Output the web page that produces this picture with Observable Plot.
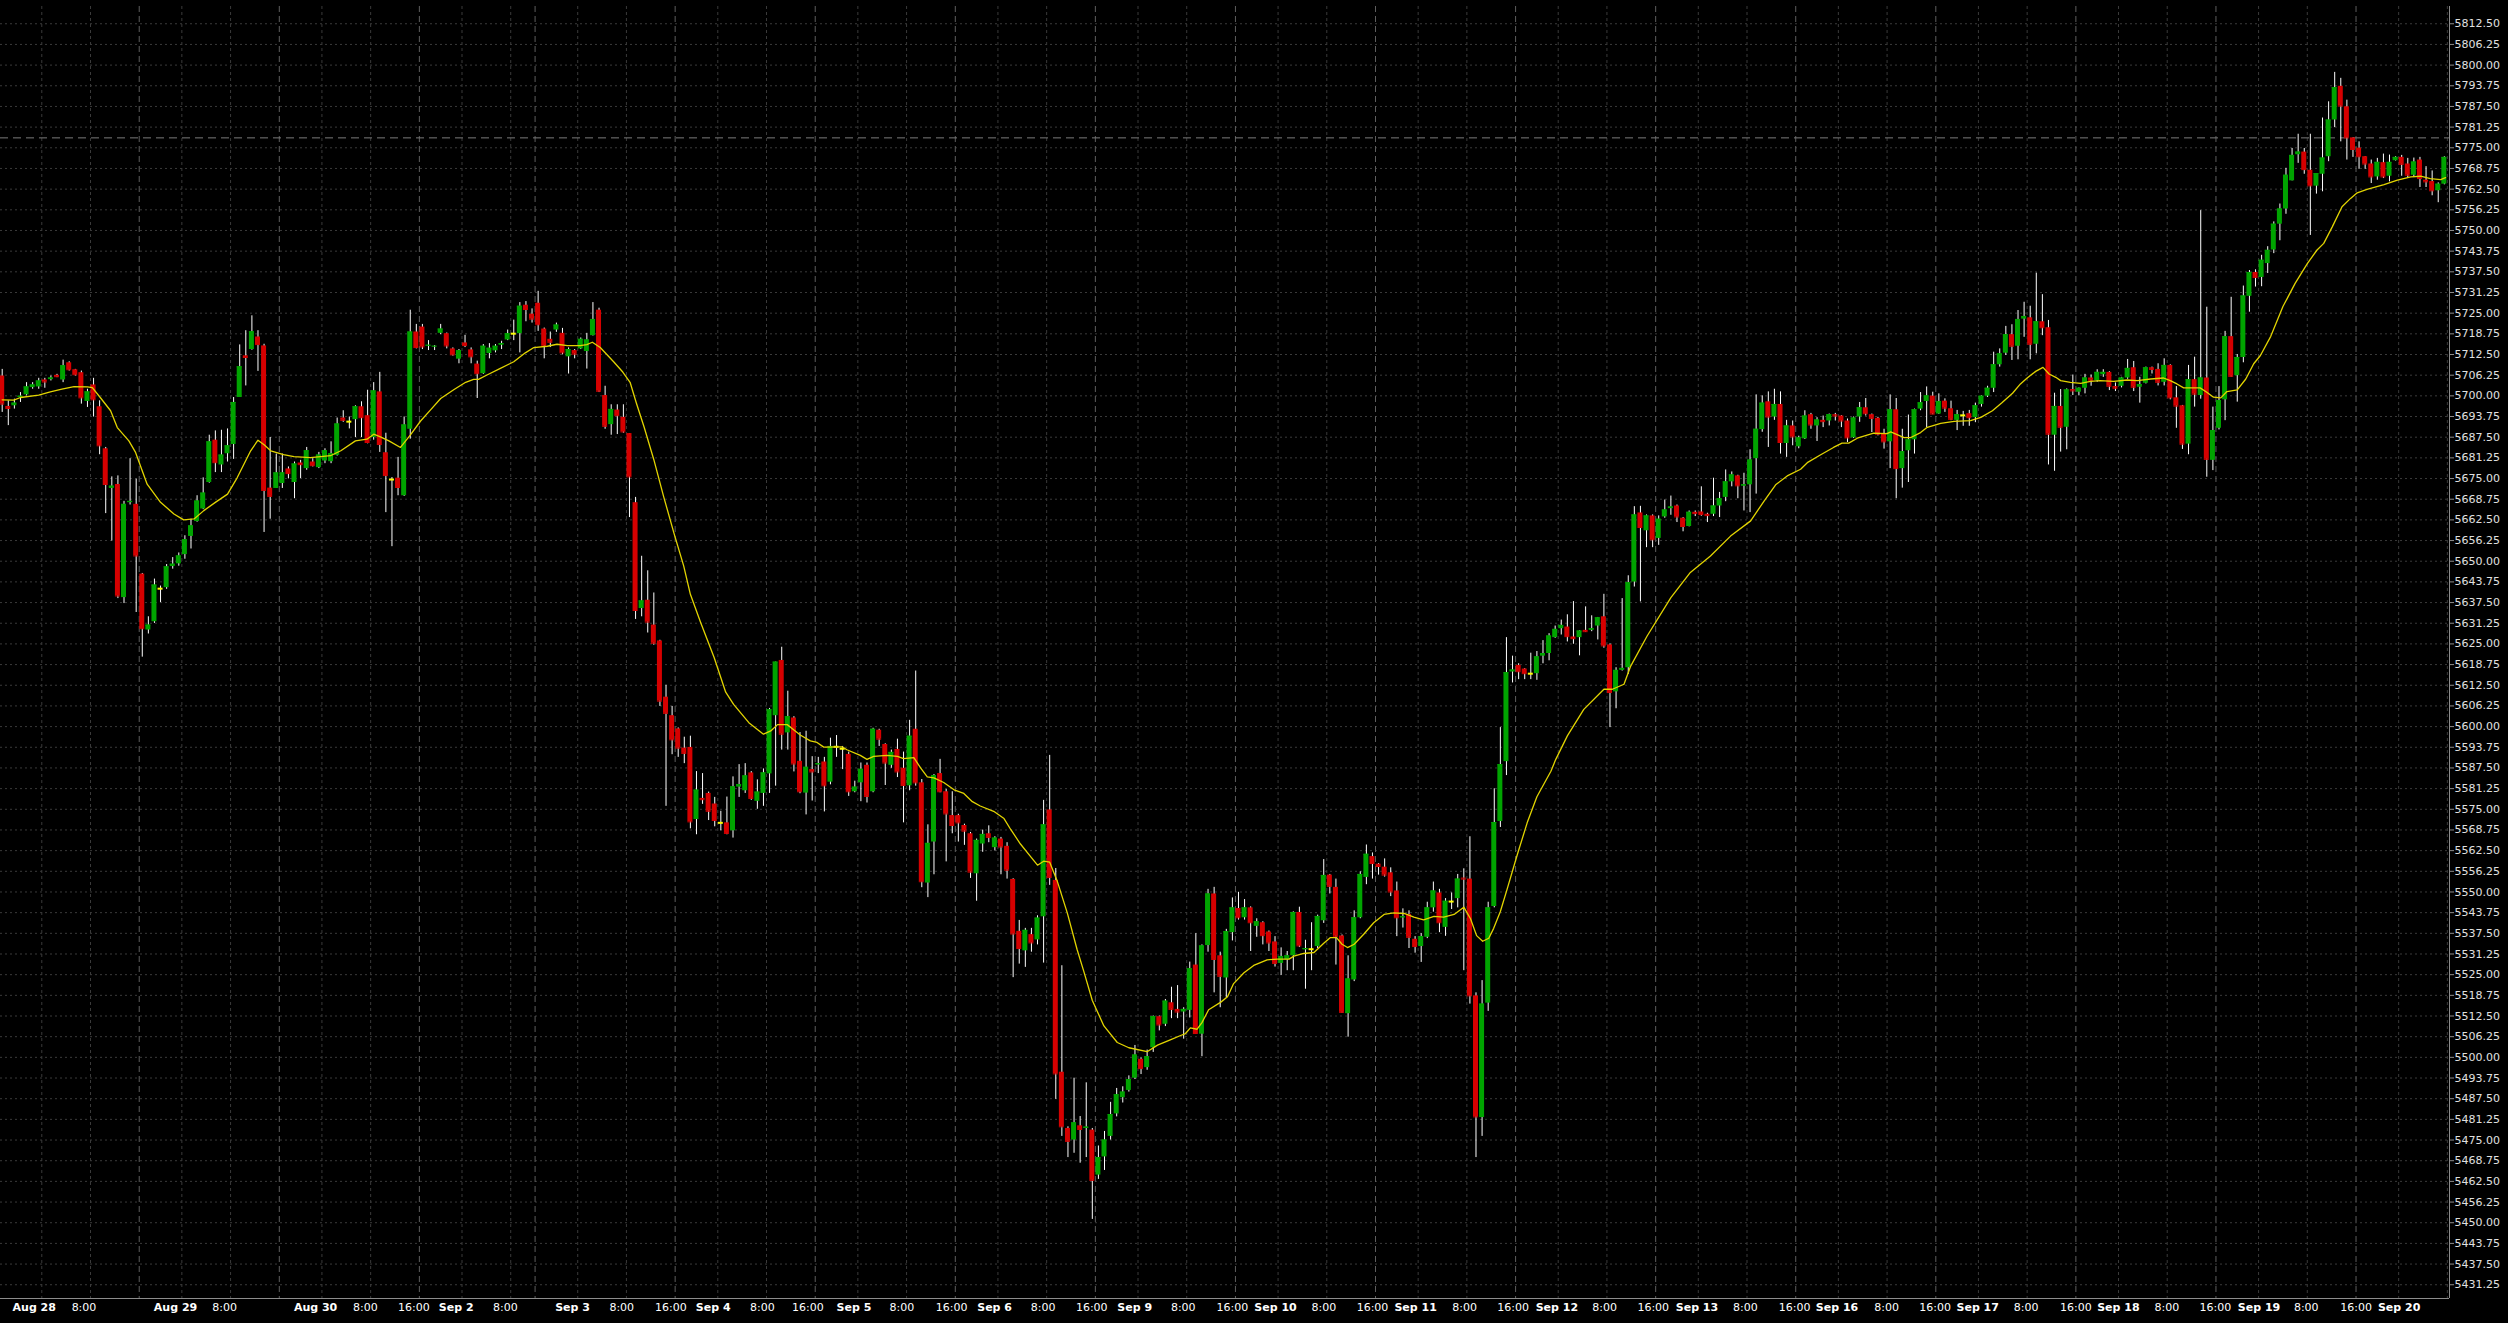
<!DOCTYPE html>
<html><head><meta charset="utf-8">
<script src="https://cdn.jsdelivr.net/npm/d3@7"></script>
<script src="https://cdn.jsdelivr.net/npm/@observablehq/plot@0.6"></script>
<style>html,body{margin:0;padding:0;background:#000;overflow:hidden}</style>
</head><body>
<script>
// ---------- DATA ----------
const OPEN = [
5706.0,5696.8,5697.0,5699.5,5700.3,5702.5,5702.7,5704.8,5704.9,5706.2,
5704.8,5710.0,5707.9,5707.0,5698.3,5703.3,5696.7,5684.0,5672.0,5673.2,
5639.0,5667.7,5667.2,5646.1,5629.2,5631.7,5641.7,5642.0,5648.4,5649.2,
5652.0,5657.5,5662.0,5665.8,5673.8,5686.6,5679.1,5682.5,5685.3,5699.5,
5712.1,5714.0,5717.8,5715.1,5672.1,5672.0,5673.5,5677.9,5673.8,5679.7,
5678.0,5680.0,5678.3,5680.3,5680.1,5682.0,5693.3,5692.2,5692.8,5696.7,
5694.0,5687.4,5701.2,5682.8,5674.7,5675.1,5669.8,5689.9,5719.3,5720.8,
5715.1,5714.9,5718.9,5718.8,5714.2,5711.1,5716.0,5713.9,5709.6,5706.7,
5712.8,5713.6,5715.3,5716.9,5718.8,5718.8,5727.4,5724.7,5728.0,5720.2,
5717.1,5719.9,5718.9,5711.8,5713.7,5714.2,5713.4,5718.2,5725.9,5700.1,
5691.3,5695.7,5693.5,5688.6,5667.7,5635.7,5638.2,5630.7,5625.9,5608.9,
5603.3,5599.3,5593.5,5593.7,5571.9,5578.3,5579.8,5576.6,5570.9,5570.9,
5568.5,5581.7,5580.6,5586.0,5577.4,5579.8,5585.7,5603.3,5620.0,5598.1,
5602.6,5589.5,5579.9,5587.0,5588.4,5589.3,5583.2,5593.9,5593.3,5591.6,
5580.3,5583.0,5588.3,5580.3,5598.9,5594.6,5588.3,5593.1,5587.4,5582.1,
5599.2,5583.0,5552.7,5565.1,5585.8,5580.3,5573.1,5573.1,5570.1,5567.6,
5555.5,5564.5,5567.6,5563.4,5566.0,5563.8,5553.8,5538.1,5532.2,5537.1,
5535.5,5542.5,5574.8,5553.5,5495.5,5478.5,5475.0,5479.3,5478.5,5478.0,
5464.4,5469.9,5476.1,5482.9,5487.8,5490.0,5493.7,5499.4,5496.9,5502.9,
5512.3,5510.0,5516.5,5514.5,5513.7,5514.2,5527.9,5507.0,5533.8,5549.4,
5530.7,5524.0,5537.7,5545.0,5542.2,5545.2,5539.6,5540.7,5537.9,5534.9,
5528.4,5529.5,5530.7,5543.8,5532.5,5532.7,5533.5,5541.3,5555.1,5551.4,
5536.7,5513.2,5523.4,5542.2,5554.4,5560.7,5558.4,5557.5,5555.8,5550.3,
5542.2,5543.2,5535.7,5533.5,5536.3,5545.2,5549.7,5539.3,5547.1,5548.0,
5554.2,5553.9,5518.6,5481.8,5516.4,5545.6,5571.3,5589.4,5616.5,5618.5,
5617.4,5616.0,5616.0,5621.3,5622.1,5626.9,5629.6,5630.1,5627.1,5626.9,
5629.1,5629.1,5630.4,5633.2,5624.7,5610.5,5617.0,5617.8,5643.7,5664.6,
5659.2,5663.7,5656.9,5663.4,5665.9,5666.7,5663.0,5660.5,5664.8,5664.9,
5664.2,5664.2,5666.7,5669.3,5674.0,5675.8,5672.7,5673.1,5681.0,5689.8,
5698.2,5693.6,5697.4,5685.6,5690.9,5684.6,5687.0,5694.3,5690.9,5692.6,
5692.4,5694.3,5693.9,5692.4,5687.3,5693.6,5696.4,5694.3,5693.2,5688.4,
5686.1,5695.8,5678.0,5683.4,5686.7,5696.0,5698.3,5699.9,5694.5,5698.4,
5696.1,5692.6,5694.1,5694.6,5693.4,5697.4,5699.9,5702.3,5709.4,5712.9,
5718.5,5715.0,5723.2,5723.6,5715.6,5722.4,5720.6,5688.1,5696.8,5690.5,
5701.9,5701.1,5702.3,5705.4,5704.6,5706.4,5707.1,5702.8,5702.9,5705.4,
5708.5,5702.6,5703.8,5708.5,5708.0,5704.1,5709.2,5699.4,5697.0,5685.4,
5704.9,5700.1,5705.4,5680.5,5690.2,5698.8,5717.9,5706.1,5711.6,5730.1,
5737.3,5735.8,5740.0,5744.1,5751.9,5756.5,5765.0,5772.9,5773.7,5768.2,
5763.4,5767.0,5772.3,5783.4,5793.6,5787.4,5778.0,5774.9,5772.3,5770.1,
5766.2,5770.5,5766.4,5771.1,5772.1,5770.1,5766.7,5771.3,5765.2,5764.8,
5762.0,5764.0];
const HIGH = [
5708.0,5698.5,5699.0,5701.0,5704.0,5704.0,5705.3,5705.3,5706.0,5706.5,
5710.8,5710.3,5708.0,5707.5,5702.0,5705.3,5698.5,5684.4,5675.5,5675.8,
5668.1,5681.0,5674.8,5646.3,5633.2,5644.6,5642.5,5649.0,5651.1,5652.5,
5657.7,5662.7,5669.8,5675.2,5688.1,5689.4,5689.6,5690.0,5699.5,5715.4,
5719.7,5724.2,5719.7,5715.6,5687.4,5682.4,5682.4,5678.5,5680.0,5680.5,
5684.4,5681.0,5682.9,5684.0,5686.1,5693.3,5695.5,5693.6,5697.0,5698.2,
5701.7,5704.0,5707.1,5688.7,5675.3,5681.4,5693.6,5725.9,5721.6,5721.6,
5716.7,5715.2,5721.6,5719.0,5714.5,5714.0,5718.3,5714.5,5710.5,5715.5,
5715.8,5715.5,5716.5,5719.9,5722.9,5728.2,5728.5,5726.3,5731.6,5720.5,
5719.3,5722.0,5720.4,5714.5,5714.0,5717.5,5718.9,5728.2,5726.5,5702.9,
5697.3,5697.3,5697.3,5688.6,5669.3,5651.5,5647.1,5640.4,5626.1,5612.5,
5606.1,5599.6,5596.8,5597.1,5586.4,5585.8,5580.2,5578.6,5574.4,5578.7,
5584.8,5588.5,5588.8,5586.4,5583.9,5587.2,5605.5,5619.5,5624.0,5610.7,
5603.0,5598.2,5598.6,5590.9,5590.7,5590.7,5596.5,5597.3,5594.0,5592.3,
5583.5,5589.0,5589.0,5599.5,5599.2,5594.8,5592.9,5596.2,5592.3,5601.9,
5616.8,5584.0,5570.3,5585.5,5590.1,5581.0,5580.3,5573.5,5570.5,5568.0,
5566.0,5568.7,5570.0,5566.7,5566.5,5564.9,5554.0,5541.4,5539.0,5539.0,
5542.8,5577.7,5591.3,5557.1,5527.7,5479.0,5493.7,5482.1,5492.3,5478.5,
5473.2,5477.6,5486.4,5490.6,5491.1,5494.4,5503.6,5499.8,5502.2,5512.5,
5512.5,5517.5,5521.2,5521.7,5515.0,5528.8,5537.4,5534.0,5550.8,5551.4,
5531.8,5538.7,5548.2,5549.9,5547.7,5545.5,5541.9,5541.0,5538.2,5536.5,
5533.1,5532.0,5544.0,5545.4,5535.4,5540.7,5543.0,5559.8,5555.3,5553.9,
5537.0,5530.7,5544.3,5556.1,5564.2,5561.8,5558.6,5560.0,5557.3,5553.0,
5544.9,5544.3,5536.5,5537.4,5546.9,5553.0,5550.8,5548.0,5549.7,5555.3,
5557.0,5566.7,5519.5,5523.2,5546.9,5581.2,5599.7,5626.9,5621.3,5619.0,
5617.5,5622.2,5622.7,5626.0,5628.1,5630.4,5632.2,5633.8,5637.8,5629.0,
5636.2,5633.5,5633.0,5640.0,5625.0,5617.8,5638.7,5645.6,5666.5,5666.6,
5664.0,5664.0,5663.7,5668.5,5669.7,5667.0,5663.2,5665.2,5665.2,5672.5,
5664.5,5675.1,5670.8,5677.6,5677.0,5676.0,5676.6,5683.7,5700.3,5700.0,
5701.2,5702.0,5701.2,5692.6,5692.4,5687.8,5695.5,5694.7,5693.4,5693.9,
5694.5,5694.7,5694.0,5693.0,5693.6,5698.0,5699.2,5694.5,5693.5,5689.9,
5700.3,5699.2,5689.9,5694.2,5696.0,5701.0,5702.7,5701.1,5700.6,5699.1,
5698.4,5695.6,5695.3,5695.6,5697.8,5700.0,5702.9,5713.2,5714.2,5721.0,
5721.5,5725.8,5728.3,5727.1,5737.1,5730.6,5722.8,5700.8,5701.9,5702.1,
5706.3,5702.4,5706.5,5706.3,5707.9,5707.9,5707.3,5703.9,5705.6,5711.0,
5710.4,5705.6,5708.7,5708.7,5709.7,5711.2,5709.4,5702.8,5697.1,5709.2,
5711.7,5756.0,5726.8,5696.6,5702.8,5719.5,5729.8,5712.5,5733.2,5737.9,
5738.1,5742.5,5745.1,5752.6,5758.0,5768.8,5774.8,5779.1,5774.8,5779.1,
5767.2,5784.0,5788.9,5797.8,5796.0,5789.4,5778.0,5776.8,5772.3,5771.3,
5771.8,5773.1,5772.8,5772.3,5772.7,5771.8,5771.9,5772.1,5769.3,5768.0,
5764.4,5772.3];
const LOW = [
5695.0,5691.0,5696.0,5698.0,5700.0,5702.0,5702.0,5702.3,5704.5,5705.5,
5704.0,5707.5,5706.0,5697.5,5696.5,5693.6,5682.2,5664.4,5656.1,5638.7,
5637.2,5667.0,5634.5,5621.0,5628.0,5631.2,5637.5,5641.5,5647.6,5648.5,
5650.6,5653.7,5661.8,5665.6,5673.6,5676.8,5676.8,5680.0,5680.8,5699.5,
5703.0,5713.8,5707.4,5658.7,5662.7,5672.0,5672.0,5674.9,5668.9,5675.0,
5677.5,5678.5,5678.0,5679.5,5679.5,5681.8,5692.0,5690.0,5687.4,5687.4,
5685.5,5686.6,5682.9,5664.7,5654.4,5669.8,5669.6,5686.9,5714.2,5714.0,
5713.7,5713.7,5718.5,5714.2,5712.0,5709.7,5714.6,5709.7,5699.2,5706.5,
5711.2,5713.0,5714.0,5716.7,5716.7,5713.0,5722.4,5722.0,5719.5,5711.2,
5714.6,5719.2,5712.4,5706.6,5711.2,5714.0,5708.1,5718.1,5701.0,5689.9,
5688.1,5688.3,5688.7,5663.2,5632.4,5633.2,5628.3,5624.6,5606.1,5575.9,
5591.5,5590.7,5588.8,5569.1,5567.3,5576.5,5571.6,5569.7,5568.5,5567.3,
5566.3,5578.6,5579.8,5577.7,5575.0,5575.9,5579.8,5582.0,5592.9,5592.9,
5586.3,5579.7,5573.3,5577.5,5585.8,5574.2,5582.4,5590.7,5587.0,5578.9,
5580.0,5577.3,5576.9,5580.0,5594.0,5582.2,5587.4,5584.6,5570.9,5580.6,
5582.0,5551.3,5548.3,5555.2,5580.0,5559.1,5567.6,5565.1,5564.1,5554.1,
5547.2,5562.0,5564.9,5562.4,5555.2,5553.9,5524.1,5528.2,5527.2,5531.8,
5534.0,5528.5,5552.0,5487.3,5476.1,5469.7,5471.0,5468.0,5469.7,5451.0,
5463.1,5465.8,5475.0,5482.0,5486.2,5489.5,5493.3,5494.8,5496.1,5501.5,
5508.0,5509.3,5511.7,5511.7,5505.5,5511.9,5507.0,5500.2,5531.8,5519.5,
5515.0,5518.0,5535.2,5541.5,5541.5,5532.0,5536.3,5534.0,5532.0,5527.3,
5524.8,5526.2,5526.2,5533.2,5520.6,5526.2,5532.9,5540.5,5549.4,5527.9,
5513.3,5506.1,5522.9,5541.9,5552.2,5553.9,5555.1,5554.5,5548.6,5536.5,
5539.1,5532.9,5531.5,5528.7,5535.9,5543.9,5537.7,5536.6,5544.7,5545.2,
5526.2,5516.1,5469.7,5476.1,5513.9,5545.2,5569.5,5585.2,5613.2,5614.2,
5614.2,5614.2,5614.0,5619.0,5619.9,5626.7,5627.7,5625.6,5624.9,5621.4,
5628.5,5628.7,5626.2,5623.7,5599.7,5605.4,5616.8,5615.8,5642.2,5637.7,
5654.1,5654.1,5654.8,5663.0,5663.9,5661.7,5658.9,5660.4,5663.5,5663.6,
5661.7,5663.5,5663.2,5668.0,5672.5,5668.9,5665.2,5664.7,5670.3,5689.0,
5684.4,5692.6,5682.4,5681.4,5684.9,5684.0,5686.8,5689.9,5686.2,5690.4,
5690.9,5692.4,5690.4,5685.9,5687.1,5692.0,5693.9,5688.9,5687.9,5683.9,
5678.0,5668.9,5672.1,5673.8,5682.4,5695.5,5690.4,5694.3,5694.4,5695.0,
5692.5,5689.5,5690.8,5690.8,5691.9,5696.6,5699.5,5701.0,5708.7,5712.2,
5710.7,5710.9,5717.7,5710.9,5712.7,5718.2,5679.1,5677.2,5683.0,5683.7,
5700.1,5700.0,5700.6,5702.9,5704.1,5705.6,5701.6,5701.3,5702.4,5705.0,
5701.3,5697.8,5703.6,5706.6,5703.0,5703.0,5698.8,5690.2,5683.8,5682.2,
5696.6,5699.0,5675.4,5677.4,5689.7,5692.5,5705.6,5698.1,5710.0,5725.3,
5732.9,5733.0,5737.0,5743.0,5746.9,5754.9,5765.0,5770.3,5767.0,5748.5,
5761.0,5761.7,5770.8,5781.1,5776.8,5771.3,5772.1,5768.5,5768.5,5764.2,
5765.2,5765.7,5764.7,5771.0,5766.4,5765.9,5766.0,5763.0,5763.0,5760.5,
5758.4,5763.8];
const CLOSE = [
5697.5,5696.2,5697.8,5699.9,5702.7,5703.3,5704.5,5704.2,5705.4,5705.8,
5709.1,5707.9,5706.4,5699.4,5701.2,5698.8,5684.9,5673.2,5672.7,5639.5,
5667.2,5668.1,5651.6,5629.6,5630.7,5642.8,5641.7,5648.3,5649.1,5651.6,
5656.5,5660.7,5668.2,5670.6,5686.1,5679.8,5682.1,5684.9,5698.0,5708.8,
5711.6,5719.4,5715.5,5671.4,5669.6,5676.7,5676.7,5676.5,5679.4,5679.2,
5683.4,5678.9,5682.1,5683.4,5682.5,5691.5,5692.6,5692.2,5696.7,5693.4,
5685.9,5701.5,5685.3,5675.9,5674.7,5672.3,5691.2,5719.3,5714.6,5714.8,
5715.3,5715.0,5720.2,5715.1,5712.4,5713.7,5715.2,5711.8,5706.7,5715.0,
5714.4,5715.0,5715.8,5718.8,5718.8,5727.1,5726.1,5723.2,5721.5,5715.0,
5716.2,5721.4,5713.0,5714.0,5712.6,5717.1,5716.9,5723.1,5701.4,5690.8,
5695.9,5694.0,5689.1,5675.5,5635.1,5638.0,5631.6,5625.2,5607.7,5604.0,
5596.0,5593.5,5591.9,5571.2,5580.8,5577.9,5574.4,5571.6,5570.9,5567.7,
5581.8,5582.5,5585.1,5578.3,5580.2,5586.0,5605.1,5619.5,5597.7,5603.0,
5588.7,5580.3,5587.7,5586.3,5588.8,5582.1,5594.0,5593.9,5593.3,5580.3,
5581.7,5587.1,5578.9,5599.2,5596.2,5589.0,5592.2,5586.3,5582.2,5597.1,
5583.0,5553.1,5564.7,5585.2,5580.3,5573.6,5570.1,5570.9,5568.4,5556.0,
5565.6,5567.4,5566.5,5566.3,5563.6,5556.6,5537.3,5532.9,5538.4,5534.6,
5542.1,5570.3,5554.4,5495.0,5479.0,5474.6,5480.2,5478.2,5478.9,5462.8,
5469.7,5475.0,5482.7,5488.7,5489.5,5493.3,5500.7,5496.6,5500.2,5512.3,
5509.8,5517.0,5514.5,5513.7,5514.5,5526.8,5507.2,5533.7,5549.4,5529.6,
5524.5,5538.0,5545.2,5542.2,5545.2,5540.7,5541.0,5536.8,5534.6,5528.4,
5530.5,5530.7,5543.8,5533.7,5532.9,5532.7,5542.6,5555.0,5551.7,5536.6,
5513.6,5523.7,5542.2,5555.3,5561.4,5558.6,5557.7,5555.1,5550.0,5542.2,
5542.5,5536.3,5533.5,5536.5,5545.2,5550.3,5540.7,5547.2,5547.1,5553.9,
5553.9,5518.6,5482.0,5516.1,5545.2,5571.0,5588.5,5616.3,5617.1,5616.6,
5616.0,5616.0,5621.1,5622.1,5627.4,5629.4,5630.6,5627.2,5626.6,5628.9,
5628.7,5629.6,5632.9,5624.4,5610.3,5617.0,5617.6,5643.5,5664.0,5660.2,
5663.7,5656.5,5662.7,5665.5,5666.4,5663.4,5660.5,5664.8,5664.4,5664.1,
5663.8,5666.7,5668.9,5674.0,5676.1,5672.8,5673.1,5680.6,5689.9,5697.8,
5693.6,5697.4,5685.9,5690.9,5687.6,5687.3,5693.9,5691.2,5692.7,5692.2,
5694.3,5693.9,5692.4,5687.3,5693.3,5696.4,5694.6,5693.2,5688.4,5686.1,
5695.8,5678.0,5683.1,5686.7,5695.8,5697.9,5700.0,5694.5,5698.3,5696.3,
5692.9,5694.3,5694.1,5693.4,5697.0,5699.9,5702.3,5709.4,5712.7,5718.5,
5715.0,5723.1,5724.0,5715.6,5722.4,5720.6,5688.4,5696.8,5690.5,5701.8,
5701.5,5702.3,5705.4,5704.7,5707.1,5707.1,5702.9,5702.3,5705.4,5708.3,
5702.6,5703.4,5708.5,5708.0,5704.1,5709.2,5699.4,5696.9,5685.4,5704.9,
5700.5,5705.4,5680.8,5689.5,5698.6,5717.9,5705.9,5711.6,5730.2,5737.3,
5735.8,5741.0,5744.0,5751.9,5756.5,5766.7,5772.7,5773.7,5768.4,5763.5,
5767.2,5771.9,5783.4,5793.2,5787.6,5778.0,5774.5,5772.3,5770.1,5766.2,
5770.6,5766.2,5770.6,5772.1,5770.0,5766.7,5770.7,5765.7,5764.7,5762.0,
5764.0,5772.1];

// moving average line: bar index and value
const MA_IDX = [0,1.9,3,6,7.9,9.8,11.8,14,14.8,16.1,17.8,18.9,20.8,21.9,23.8,26,28.2,29.8,31.5,33.1,35,37,38.6,40.8,42,43,44.1,46.2,47.9,50.6,52.3,53.9,55.6,58,59.9,61,62.1,63.5,65.4,67,68.7,70.3,72,74.2,76.1,77.4,78.2,79.6,81.8,84,85.9,87.3,89.5,91.1,92.8,94.9,96,96.9,98.2,100.4,101.9,103.1,104.1,105.4,107,108.6,110.3,111.9,113,114.7,116.9,118.8,120.1,122.6,125,126.2,127.3,128.9,130,131.1,132.7,133.8,134.9,137.9,138.7,140.9,142,143.1,145.3,147,148,149.7,150.8,151.9,153,154.6,156.3,157.9,159.3,160.6,162.8,164.5,165.6,167.2,168.9,170,171,172,173.2,174.9,176.5,177.6,179,180.9,183.1,185,188,189.7,191.8,193.5,194.3,195.1,196.2,197,198.1,200.1,201.2,202.2,203.9,205.5,207.7,209.4,211.3,212.1,213.7,215.4,217,218.1,219.1,220,220.9,222,223.6,225.2,226.9,228.5,230.2,231.8,233.4,235.1,236.7,238.4,240,241.1,242.1,243.1,244.1,244.9,246,247.1,248.8,250.4,252,254.3,255.1,257,259.7,263,264.4,266.3,267.4,270.1,274,277.2,280.5,283.8,287.1,289.3,291.2,293.1,295.3,296.4,298.6,300.7,302.1,303.2,304.6,307.3,309.5,310.1,312.3,313.4,315,316.1,318.3,320.5,323.2,324.9,326.8,328.4,330.1,331.4,332.5,333.9,335.1,336.1,337.2,338,339.6,341.3,342.9,344.5,346.7,348.9,350.6,352.8,354.9,356,357.1,358.2,360.9,362,363.1,364.3,365.3,367,368.4,369.7,370.8,372.5,374.5,376.5,378.5,380.1,381.2,382.6,384.2,385.6,386.7,388.3,391.1,393.3,395.5,397.1,398.7,400.4,401.2];
const MA_VAL = [5698.8,5698.7,5699.5,5700.2,5701.2,5702.0,5702.8,5702.7,5702.5,5699.5,5695.5,5690.4,5686.4,5682.9,5673.3,5667.8,5664.3,5662.5,5662.8,5665.3,5667.8,5670.3,5675.3,5683.4,5686.6,5685.2,5683.4,5682.2,5681.6,5681.3,5681.6,5681.9,5683.4,5686.4,5686.9,5688.4,5687.6,5686.4,5684.4,5688.1,5692.4,5695.7,5699.2,5701.9,5704.1,5705.0,5705.0,5706.3,5708.3,5710.3,5713.0,5714.6,5715.0,5715.6,5715.2,5715.2,5715.5,5716.2,5714.6,5710.3,5707.2,5704.1,5698.0,5690.6,5680.7,5669.6,5658.5,5648.6,5640.0,5631.4,5620.9,5610.4,5606.7,5601.2,5597.7,5598.7,5600.6,5600.6,5599.0,5597.4,5595.7,5595.2,5593.8,5593.9,5593.0,5591.3,5590.1,5591.0,5591.3,5591.0,5590.3,5590.6,5587.5,5584.8,5584.5,5583.1,5580.9,5579.8,5577.3,5576.0,5574.4,5572.2,5568.9,5564.5,5560.6,5558.1,5559.3,5559.0,5553.5,5543.6,5532.6,5526.0,5517.2,5509.5,5504.5,5502.9,5501.7,5503.7,5505.3,5506.6,5507.2,5508.9,5508.5,5510.5,5514.4,5516.7,5518.3,5522.3,5525.6,5527.8,5529.5,5529.7,5529.7,5530.6,5531.4,5531.7,5534.5,5536.2,5536.2,5534.2,5533.2,5534.2,5537.3,5540.7,5543.2,5543.7,5543.5,5542.4,5541.6,5542.6,5542.4,5543.2,5545.4,5541.9,5536.8,5535.1,5536.0,5539.0,5544.1,5550.8,5561.4,5570.9,5578.8,5586.5,5590.1,5597.2,5605.2,5611.3,5611.3,5612.8,5618.3,5627.4,5639.0,5646.6,5651.6,5657.6,5662.2,5668.2,5673.1,5675.8,5677.8,5679.8,5682.2,5684.4,5685.7,5685.7,5687.2,5688.7,5688.6,5689.1,5687.4,5687.4,5688.9,5690.5,5691.7,5692.3,5692.5,5693.5,5695.5,5698.0,5700.8,5703.6,5705.4,5707.4,5708.6,5706.6,5705.6,5704.6,5704.1,5703.8,5704.4,5704.6,5704.4,5704.8,5704.6,5705.1,5705.4,5704.6,5703.6,5702.4,5702.4,5701.1,5699.6,5699.4,5701.3,5701.8,5705.1,5709.7,5712.2,5718.0,5727.0,5734.0,5740.0,5744.1,5746.1,5751.1,5757.2,5759.7,5761.4,5762.4,5763.9,5765.2,5766.2,5766.4,5765.7,5765.4,5766.0];

const Y_TICKS = [5431.25,5437.5,5443.75,5450,5456.25,5462.5,5468.75,5475,5481.25,5487.5,5493.75,5500,5506.25,5512.5,5518.75,5525,5531.25,5537.5,5543.75,5550,5556.25,5562.5,5568.75,5575,5581.25,5587.5,5593.75,5600,5606.25,5612.5,5618.75,5625,5631.25,5637.5,5643.75,5650,5656.25,5662.5,5668.75,5675,5681.25,5687.5,5693.75,5700,5706.25,5712.5,5718.75,5725,5731.25,5737.5,5743.75,5750,5756.25,5762.5,5768.75,5775,5781.25,5787.5,5793.75,5800,5806.25,5812.5];
const PRICE_LINE = [5778.0];

// vertical grid lines (between bars)
const GRID_MAJOR = [22.5,45.5,68.5,87.5,110.5,133.5,156.5,179.5,202.5,225.5,248.5,271.5,294.5,317.5,340.5,363.5,386.5];
const GRID_MINOR = [6.5,14.5,29.5,37.5,52.5,60.5,75.5,83.5,94.5,102.5,117.5,125.5,140.5,148.5,163.5,171.5,186.5,194.5,209.5,217.5,232.5,240.5,255.5,263.5,278.5,286.5,301.5,309.5,324.5,332.5,347.5,355.5,370.5,378.5,393.5,401.5];

// time axis labels: bar position and text
const DATE_POS = [1.7,24.9,47.9,71.7,90.8,113.9,137.0,160.1,183.1,205.6,228.6,251.8,274.8,297.8,320.9,344.0,367.1,390.1];
const DATE_TXT = ["Aug 28","Aug 29","Aug 30","Sep 2","Sep 3","Sep 4","Sep 5","Sep 6","Sep 9","Sep 10","Sep 11","Sep 12","Sep 13","Sep 16","Sep 17","Sep 18","Sep 19","Sep 20"];
const TIME_POS = [11.4,34.5,57.6,65.0,80.6,99.7,107.2,122.8,129.7,145.7,153.3,168.9,176.3,191.9,199.4,215.0,222.4,238.1,245.5,261.1,268.5,284.2,291.7,307.4,314.8,330.3,337.9,353.4,360.8,376.3,383.9];
const TIME_TXT = ["8:00","8:00","8:00","16:00","8:00","8:00","16:00","8:00","16:00","8:00","16:00","8:00","16:00","8:00","16:00","8:00","16:00","8:00","16:00","8:00","16:00","8:00","16:00","8:00","16:00","8:00","16:00","8:00","16:00","8:00","16:00"];

// ---------- STYLE ----------
const UP = "#00a400", DOWN = "#d60000", DOJI = "#ffff00", WICK = "#ffffff", MA_COLOR = "#e2d400";
const HALF = 0.41;

const candles = OPEN.map((o, i) => {
  const c = CLOSE[i];
  return {i, o, h: HIGH[i], l: LOW[i], c, col: c > o ? UP : c < o ? DOWN : DOJI, doji: c === o};
});
const ma = MA_IDX.map((x, k) => ({x, v: MA_VAL[k]}));
const dates = DATE_POS.map((x, k) => ({x, t: DATE_TXT[k]}));
const times = TIME_POS.map((x, k) => ({x, t: TIME_TXT[k]}));

const chart = Plot.plot({
  width: 2508, height: 1323,
  marginLeft: 0, marginRight: 59, marginTop: 6, marginBottom: 25,
  x: {domain: [-0.279, 401.85], axis: null},
  y: {domain: [5427.09, 5817.72], axis: null},
  color: {type: "identity"},
  style: {background: "#000", fontFamily: "DejaVu Sans", fontSize: "11px", color: "#e0e0e0"},
  marks: [
    Plot.ruleY(Y_TICKS, {stroke: "#3a3a3a", strokeDasharray: "2,3"}),
    Plot.ruleX(GRID_MINOR, {stroke: "#3a3a3a", strokeDasharray: "3,3"}),
    Plot.ruleX(GRID_MAJOR, {stroke: "#5e5e5e", strokeDasharray: "6,4"}),
    Plot.ruleY(PRICE_LINE, {stroke: "#7a7a7a", strokeDasharray: "8,5"}),
    Plot.ruleX(candles, {x: "i", y1: "l", y2: "h", stroke: WICK, strokeWidth: 1}),
    Plot.rect(candles, {x1: d => d.i - HALF, x2: d => d.i + HALF, y1: "o", y2: "c", fill: "col"}),
    Plot.ruleY(candles, {x1: d => d.i - HALF, x2: d => d.i + HALF, y: "c", stroke: "col", strokeWidth: d => d.doji ? 2 : 1}),
    Plot.line(ma, {x: "x", y: "v", stroke: MA_COLOR, strokeWidth: 1.3}),
    Plot.ruleY([5427.09], {stroke: "#8c8c8c"}),
    Plot.ruleX([401.85], {stroke: "#8c8c8c"}),
    Plot.axisY({anchor: "right", ticks: Y_TICKS, tickFormat: d => d.toFixed(2), tickSize: 4, tickPadding: 1, stroke: "#8c8c8c", fill: "#e0e0e0", fontSize: 11, label: null}),
    Plot.text(dates, {x: "x", text: "t", frameAnchor: "bottom", textAnchor: "start", lineAnchor: "top", dy: 5, fill: "#ffffff", fontWeight: "bold", fontSize: 11}),
    Plot.text(times, {x: "x", text: "t", frameAnchor: "bottom", textAnchor: "start", lineAnchor: "top", dy: 5, fill: "#ffffff", fontSize: 11})
  ]
});
document.body.appendChild(chart);
</script>
</body></html>
